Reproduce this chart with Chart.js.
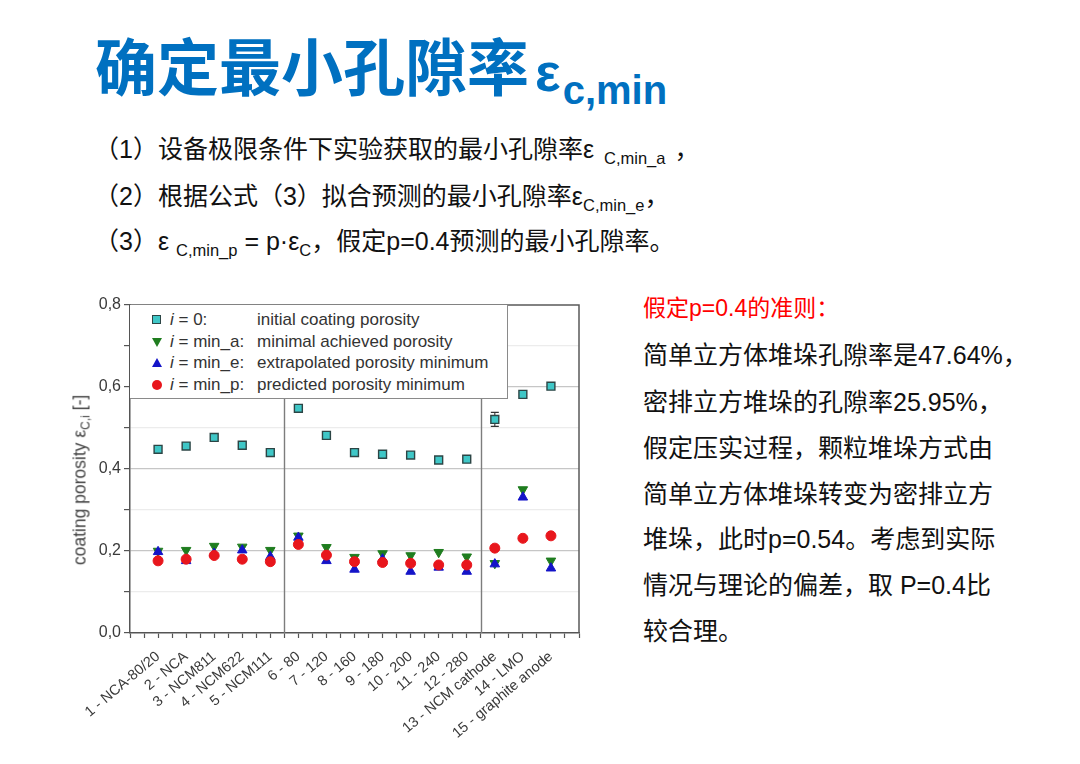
<!DOCTYPE html>
<html>
<head>
<meta charset="utf-8">
<script src="https://cdn.jsdelivr.net/npm/chart.js@4.4.1/dist/chart.umd.min.js"></script>
<style>
html,body{margin:0;padding:0;background:#fff;}
body{width:1080px;height:764px;position:relative;overflow:hidden;font-family:'Liberation Sans','Noto Sans CJK SC',sans-serif;color:#111;}
.abs{position:absolute;white-space:nowrap;}
#title{left:95px;top:33px;font-family:'Noto Sans CJK SC',sans-serif;font-weight:700;font-size:62px;line-height:62px;color:#0070c0;}
#title .eps{font-family:'Liberation Sans',sans-serif;font-size:54px;margin-left:6px;}
#title .sub{font-size:40px;position:relative;top:13px;margin-left:2px;}
.para{left:94px;font-size:25px;line-height:25px;color:#111;}
.para .sub{font-size:16.5px;position:relative;top:6px;}
.note{left:643px;font-size:25px;line-height:25px;color:#111;}
.note.red{color:#ff0000;font-size:23px;line-height:23px;}
#chartBox{position:absolute;left:60px;top:295px;width:530px;height:465px;}
#ytitle{position:absolute;left:80px;top:480px;transform:translate(-50%,-50%) rotate(-90deg);font-size:17.5px;color:#444;white-space:nowrap;font-family:'Liberation Sans',sans-serif;}
#ytitle .sub{font-size:12px;position:relative;top:4px;}
#legend{position:absolute;left:130px;top:305px;width:377px;height:93px;background:#fff;border:1px solid #8a8a8a;border-top:none;border-left:none;font-family:'Liberation Sans',sans-serif;font-size:17px;color:#333;}
#legend .row{position:absolute;left:0;height:22px;line-height:22px;width:100%;}
#legend .mk{position:absolute;left:22px;}
#legend .key{position:absolute;left:40px;}
#legend .desc{position:absolute;left:127px;}
</style>
</head>
<body>
<div id="title" class="abs">确定最小孔隙率<span class="eps">ε<span class="sub">c,min</span></span></div>
<div class="abs para" style="top:137px">（1）设备极限条件下实验获取的最小孔隙率ε <span class="sub" style="margin-left:3px;margin-right:9px">C,min_a</span>，</div>
<div class="abs para" style="top:184px">（2）根据公式（3）拟合预测的最小孔隙率ε<span class="sub">C,min_e</span>，</div>
<div class="abs para" style="top:229px">（3）ε <span class="sub">C,min_p</span> = p·ε<span class="sub">C</span>，假定p=0.4预测的最小孔隙率。</div>

<div class="abs note red" style="top:297px">假定p=0.4的准则：</div>
<div class="abs note" style="top:343px">简单立方体堆垛孔隙率是47.64%，</div>
<div class="abs note" style="top:390px">密排立方堆垛的孔隙率25.95%，</div>
<div class="abs note" style="top:436px">假定压实过程，颗粒堆垛方式由</div>
<div class="abs note" style="top:482px">简单立方体堆垛转变为密排立方</div>
<div class="abs note" style="top:527px">堆垛，此时p=0.54。考虑到实际</div>
<div class="abs note" style="top:573px">情况与理论的偏差，取 P=0.4比</div>
<div class="abs note" style="top:619px">较合理。</div>

<div id="chartBox"><canvas id="c" width="530" height="465"></canvas></div>
<div id="ytitle">coating porosity ε<span class="sub">C,i</span> [-]</div>
<div id="legend"></div>

<script>
// ---- data ----
const categories = ['1 - NCA-80/20','2 - NCA','3 - NCM811','4 - NCM622','5 - NCM111',
  '6 - 80','7 - 120','8 - 160','9 - 180','10 - 200','11 - 240','12 - 280',
  '13 - NCM cathode','14 - LMO','15 - graphite anode'];
const initialPorosity = [0.448,0.456,0.477,0.458,0.440,0.548,0.482,0.440,0.436,0.434,0.422,0.424,0.521,0.582,0.602];
const initialError    = [0.006,0,0,0,0,0,0,0,0,0,0,0,0.017,0,0];
const minAchieved     = [0.200,0.202,0.212,0.210,0.202,0.237,0.209,0.185,0.194,0.189,0.197,0.186,0.170,0.350,0.176];
const minExtrapolated = [0.198,0.176,0.194,0.202,0.186,0.233,0.176,0.155,0.180,0.150,0.160,0.150,0.168,0.331,0.158];
const minPredicted    = [0.176,0.180,0.189,0.180,0.174,0.216,0.190,0.174,0.172,0.170,0.166,0.166,0.207,0.231,0.237];
const seriesKeys = ['0','min_a','min_e','min_p'];
const seriesDescriptions = ['initial coating porosity','minimal achieved porosity','extrapolated porosity minimum','predicted porosity minimum'];
const groupDividers = [5.5, 12.5];
const yTickValues = [0,0.1,0.2,0.3,0.4,0.5,0.6,0.7,0.8];
const xRange = [0, 16];

const toPts = arr => arr.map((v,i)=>({x:i+1,y:v}));

const styles = [
  {fill:'#3fc7c7', stroke:'#2c4545', pointStyle:'rect', radius:5.6, rotation:0, borderWidth:1.4, order:3},
  {fill:'#1f7d1f', stroke:'#1f7d1f', pointStyle:'triangle', radius:5.5, rotation:180, borderWidth:1, order:2},
  {fill:'#1414c8', stroke:'#1414c8', pointStyle:'triangle', radius:5.5, rotation:0, borderWidth:1, order:1},
  {fill:'#e8161c', stroke:'#e8161c', pointStyle:'circle', radius:5, rotation:0, borderWidth:1, order:0}
];
const seriesData = [initialPorosity, minAchieved, minExtrapolated, minPredicted];

const datasets = seriesData.map((arr,k)=>({
  label: 'i = ' + seriesKeys[k] + ': ' + seriesDescriptions[k],
  data: toPts(arr),
  showLine:false,
  pointStyle: styles[k].pointStyle,
  pointRotation: styles[k].rotation,
  pointRadius: styles[k].radius,
  pointBackgroundColor: styles[k].fill,
  pointBorderColor: styles[k].stroke,
  pointBorderWidth: styles[k].borderWidth,
  order: styles[k].order
}));

// legend (HTML, real text)
const legend = document.getElementById('legend');
const mkHtml = k => {
  if (k===0) return '<span style="display:inline-block;width:7px;height:7px;background:'+styles[0].fill+';border:1.5px solid '+styles[0].stroke+';margin-top:6px"></span>';
  if (k===1) return '<span style="display:inline-block;width:0;height:0;border-left:5px solid transparent;border-right:5px solid transparent;border-top:9px solid '+styles[1].fill+';margin-top:7px"></span>';
  if (k===2) return '<span style="display:inline-block;width:0;height:0;border-left:5px solid transparent;border-right:5px solid transparent;border-bottom:9px solid '+styles[2].fill+';margin-top:6px"></span>';
  return '<span style="display:inline-block;width:10px;height:10px;border-radius:50%;background:'+styles[3].fill+';margin-top:6px"></span>';
};
const rowTops = [4,26,47,69];
seriesKeys.forEach((key,k)=>{
  const r = document.createElement('div');
  r.className='row'; r.style.top = rowTops[k]+'px';
  r.innerHTML = '<span class="mk" style="height:22px;display:flex;align-items:flex-start;">'+mkHtml(k)+'</span>'+
    '<span class="key"><i>i</i> = '+key+':</span><span class="desc">'+seriesDescriptions[k]+'</span>';
  legend.appendChild(r);
});

const decor = {
  id:'decor',
  beforeDatasetsDraw(chart){
    const {ctx, chartArea:a, scales:{x,y}} = chart;
    ctx.save();
    ctx.strokeStyle='#7d7d7d'; ctx.lineWidth=1.4;
    groupDividers.forEach(v=>{
      const px = Math.round(x.getPixelForValue(v))+0.5;
      ctx.beginPath(); ctx.moveTo(px,a.top); ctx.lineTo(px,a.bottom); ctx.stroke();
    });
    ctx.strokeStyle='#333'; ctx.lineWidth=1.1;
    initialPorosity.forEach((v,i)=>{
      const e = initialError[i]; if(!e) return;
      const px = x.getPixelForValue(i+1);
      const y1 = y.getPixelForValue(v-e), y2 = y.getPixelForValue(v+e);
      ctx.beginPath();
      ctx.moveTo(px,y1); ctx.lineTo(px,y2);
      ctx.moveTo(px-4,y1); ctx.lineTo(px+4,y1);
      ctx.moveTo(px-4,y2); ctx.lineTo(px+4,y2);
      ctx.stroke();
    });
    ctx.restore();
  },
  afterDraw(chart){
    const {ctx, chartArea:a} = chart;
    ctx.save();
    ctx.strokeStyle='#5a5a5a'; ctx.lineWidth=1.5;
    ctx.beginPath();
    ctx.moveTo(a.left,a.top); ctx.lineTo(a.right,a.top); ctx.lineTo(a.right,a.bottom);
    ctx.stroke();
    ctx.restore();
  }
};

Chart.defaults.font.family = "'Liberation Sans', Arial, sans-serif";
new Chart(document.getElementById('c'), {
  type:'scatter',
  data:{datasets},
  options:{
    responsive:false,
    animation:false,
    layout:{padding:{top:10,right:11,bottom:0,left:0}},
    plugins:{legend:{display:false},tooltip:{enabled:false}},
    scales:{
      x:{
        type:'linear', min:xRange[0], max:xRange[1],
        afterBuildTicks(scale){
          const t=[]; for(let v=xRange[0]; v<=xRange[1]+1e-9; v+=0.5) t.push({value:v});
          scale.ticks=t;
        },
        afterFit(scale){ scale.height=127; scale.paddingLeft=0; scale.paddingRight=0; },
        ticks:{
          autoSkip:false, minRotation:40, maxRotation:40, padding:10,
          color:'#3a3a3a', font:{size:14.5},
          callback:(v)=> (Number.isInteger(v) && v>=1 && v<=categories.length) ? categories[v-1] : ''
        },
        grid:{display:true, drawOnChartArea:false, drawTicks:true, tickLength:5, tickColor:'#555', tickWidth:1.2},
        border:{display:true, color:'#555', width:1.5}
      },
      y:{
        type:'linear', min:0, max:0.8,
        afterBuildTicks(scale){ scale.ticks = yTickValues.map(v=>({value:v})); },
        afterFit(scale){ scale.width=70; scale.paddingTop=0; scale.paddingBottom=0; },
        ticks:{
          color:'#3a3a3a', font:{size:16}, padding:3,
          callback:(v)=> (Math.round(v*10)%2===0) ? v.toFixed(1).replace('.',',') : ''
        },
        grid:{
          drawTicks:true, tickLength:6,
          color:(c)=>{ const k=Math.round(c.tick.value*10); if(k===0||k===8) return 'rgba(0,0,0,0)'; return k%2===0 ? '#c6c6c6' : '#ececec'; },
          tickColor:'#555', lineWidth:1.2
        },
        border:{display:true, color:'#555', width:1.5}
      }
    }
  },
  plugins:[decor]
});
</script>
</body>
</html>
